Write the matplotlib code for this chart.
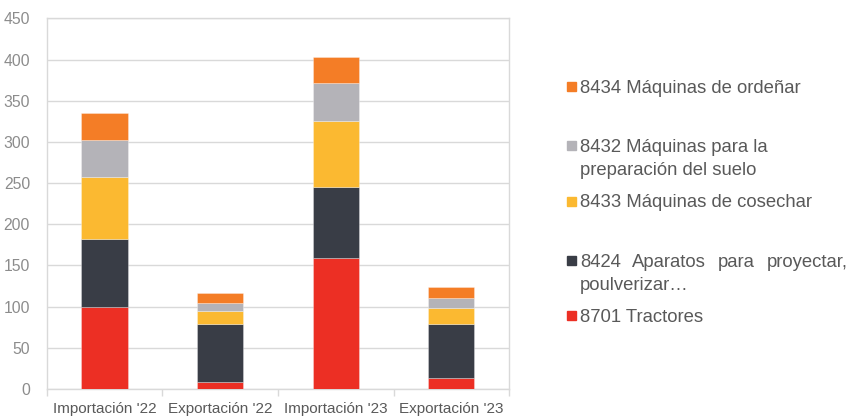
import matplotlib
matplotlib.use("Agg")
import matplotlib.pyplot as plt
from matplotlib.patches import Rectangle
import numpy as np

plt.rcParams['font.family'] = ['Liberation Sans', 'DejaVu Sans']

categories = ["Importación '22", "Exportación '22", "Importación '23", "Exportación '23"]
series_names = ["8701 Tractores", "8424 Aparatos para proyectar, poulverizar…",
                "8433 Máquinas de cosechar", "8432 Máquinas para la preparación del suelo",
                "8434 Máquinas de ordeñar"]
tractores = [100, 8, 159.5, 13]
aparatos = [82.5, 70.5, 86, 66]
cosechar = [75.3, 16.2, 79.4, 19]
suelo = [44.5, 9.7, 47, 12.5]
ordenar = [33.2, 12.2, 31, 13.3]
values = [tractores, aparatos, cosechar, suelo, ordenar]
colors = ["#EC2F24", "#393D46", "#FBB931", "#B4B3B8", "#F47D26"]
yticks = [0, 50, 100, 150, 200, 250, 300, 350, 400, 450]

fig = plt.figure(figsize=(8.5, 4.17), dpi=100)
ax = fig.add_axes([0.055, 0.067, 0.544, 0.889])

x = np.arange(len(categories))
bottom = np.zeros(len(categories))
for vals, col in zip(values, colors):
    ax.bar(x, vals, 0.4, bottom=bottom, color=col, edgecolor=(1, 1, 1, 0.35), linewidth=0.6, zorder=3)
    bottom += np.array(vals)

ax.set_xlim(-0.5, 3.5)
ax.set_ylim(0, 450)
ax.set_yticks(yticks)
ax.set_yticklabels([str(v) for v in yticks], color="#8c8c8c", fontsize=11.3)
ax.set_xticks(x)
ax.set_xticklabels(categories, color="#595959", fontsize=11)
ax.tick_params(axis='y', which='major', length=0, pad=12)
ax.tick_params(axis='x', which='major', length=0, pad=9)
ax.set_xticks([-0.5, 0.5, 1.5, 2.5, 3.5], minor=True)
ax.tick_params(axis='x', which='minor', length=5, color="#d9d9d9", width=1)
ax.yaxis.grid(True, color="#d9d9d9", linewidth=1, zorder=0)
ax.set_axisbelow(True)
for s in ax.spines.values():
    s.set_color("#d9d9d9")
    s.set_linewidth(1)

W, H = 850, 417
def fx(px):
    return px / W
def fy(py):
    return 1 - py / H

text_color = "#595959"
fs = 13.3
# (series index, marker center y, [(baseline y, [(word, x)])])
legend_entries = [
    (4, 86.5, [(93, [("8434 Máquinas de ordeñar", 580)])]),
    (3, 145, [(152, [("8432 Máquinas para la", 580)]), (175, [("preparación del suelo", 580)])]),
    (2, 201, [(207, [("8433 Máquinas de cosechar", 580)])]),
    (1, 260, [(267, [("8424", 580), ("Aparatos", 632), ("para", 718), ("proyectar,", 767)]),
              (290, [("poulverizar…", 580)])]),
    (0, 315.5, [(322, [("8701 Tractores", 580)])]),
]
for idx, mc, lines in legend_entries:
    fig.patches.append(Rectangle((fx(567), fy(mc + 4.5)), 9 / W, 9 / H,
                                 transform=fig.transFigure, color=colors[idx]))
    for py, words in lines:
        for w, px in words:
            fig.text(fx(px), fy(py), w, fontsize=fs, color=text_color, va='baseline', ha='left')

fig.savefig("out.png", dpi=100)
